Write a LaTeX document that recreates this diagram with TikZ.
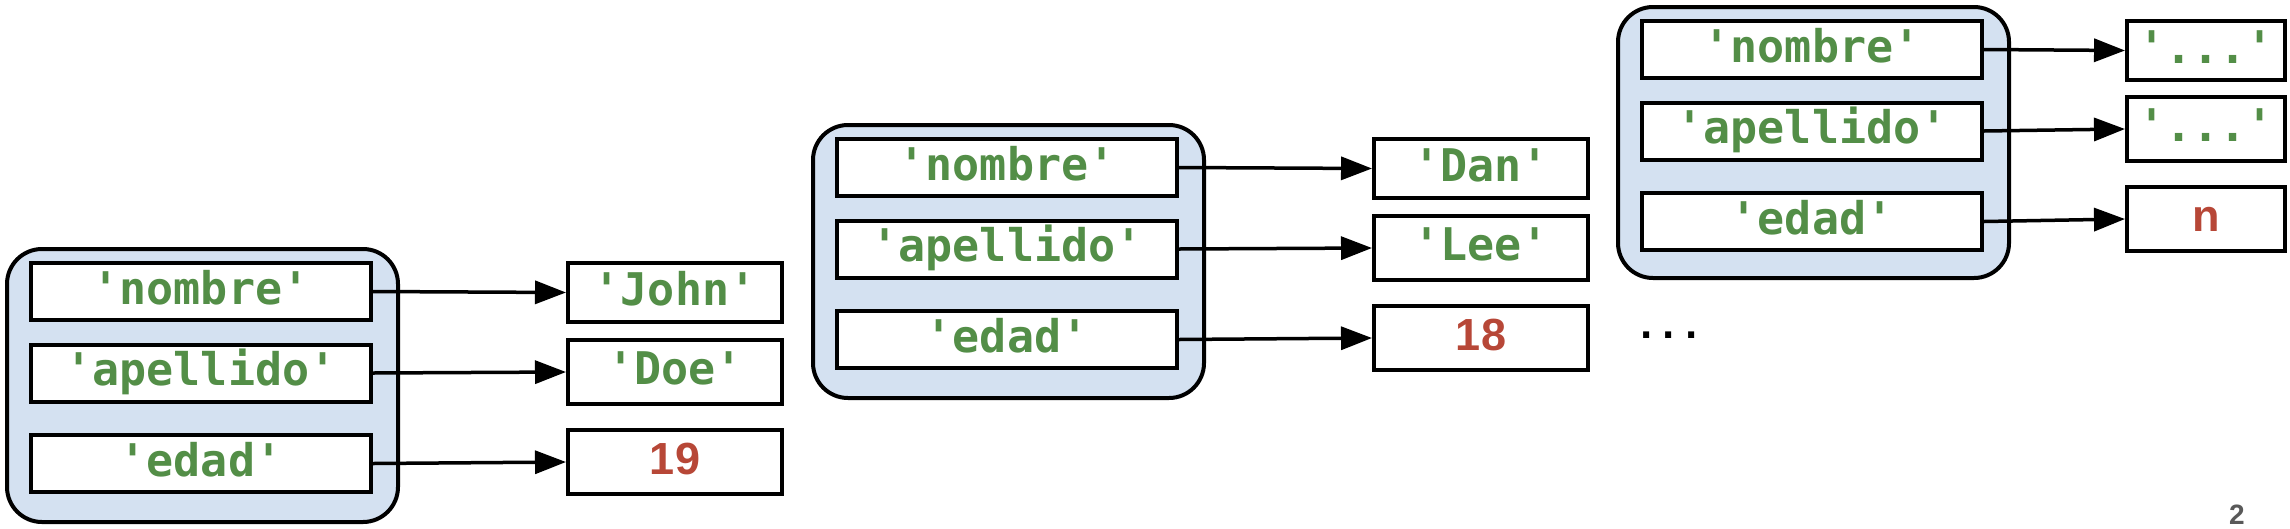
\documentclass[tikz,border=0pt]{standalone}
\usepackage{fontspec}
\usetikzlibrary{arrows.meta}
\newfontfamily\keyfont{DejaVu Sans Mono}[Ligatures=TeXOff]
\newfontfamily\numfont{Liberation Sans}[Ligatures=TeXOff]
\definecolor{kgreen}{RGB}{83,142,71}
\definecolor{kred}{RGB}{183,71,55}
\definecolor{objfill}{RGB}{212,225,241}
\definecolor{pagegray}{RGB}{89,89,89}
\tikzset{
  objbox/.style={draw=black, line width=4pt, fill=objfill, rounded corners=35pt},
  keybox/.style={draw=black, line width=4pt, fill=white, rectangle, inner sep=0pt,
    minimum width=340pt, minimum height=57pt, text height=34pt, text depth=9pt,
    font=\keyfont\bfseries\fontsize{45}{54}\selectfont, text=kgreen},
  valbox/.style={draw=black, line width=4pt, fill=white, rectangle, inner sep=0pt,
    minimum width=214pt, minimum height=59pt, text height=34pt, text depth=9pt,
    font=\keyfont\bfseries\fontsize{45}{54}\selectfont, text=kgreen},
  tallval/.style={minimum height=64pt},
  numval/.style={font=\numfont\bfseries\fontsize{45}{54}\selectfont, text=kred},
  arr/.style={line width=3.5pt, -{Triangle[length=31pt,width=23pt]}},
}
\begin{document}
\begin{tikzpicture}[x=1pt,y=-1pt]
\useasboundingbox (0,0) rectangle (2290,528);
% group 1
\begin{scope}[shift={(29,261)}]
  \path[objbox] (-22,-12) rectangle (369,261);
  \node[keybox] (a1) at (172,30.5) {'nombre'};
  \node[keybox] (a2) at (172,112) {'apellido'};
  \node[keybox] (a3) at (172,202.5) {'edad'};
  \node[valbox] (av1) at (646,31.5) {'John'};
  \node[valbox,tallval] (av2) at (646,111) {'Doe'};
  \node[valbox,tallval,numval] (av3) at (646,201) {19};
  \draw[arr] (a1.east) -- (av1.west);
  \draw[arr] (a2.east) -- (av2.west);
  \draw[arr] (a3.east) -- (av3.west);
\end{scope}
% group 2
\begin{scope}[shift={(835,137)}]
  \path[objbox] (-22,-12) rectangle (369,261);
  \node[keybox] (b1) at (172,30.5) {'nombre'};
  \node[keybox] (b2) at (172,112) {'apellido'};
  \node[keybox] (b3) at (172,202.5) {'edad'};
  \node[valbox] (bv1) at (646,31.5) {'Dan'};
  \node[valbox,tallval] (bv2) at (646,111) {'Lee'};
  \node[valbox,tallval,numval] (bv3) at (646,201) {18};
  \draw[arr] (b1.east) -- (bv1.west);
  \draw[arr] (b2.east) -- (bv2.west);
  \draw[arr] (b3.east) -- (bv3.west);
\end{scope}
% group 3
\begin{scope}[shift={(1640,19)}]
  \path[objbox] (-22,-12) rectangle (369,259);
  \node[keybox] (c1) at (172,30.5) {'nombre'};
  \node[keybox] (c2) at (172,112) {'apellido'};
  \node[keybox] (c3) at (172,202.5) {'edad'};
  \node[valbox,minimum width=158pt] (cv1) at (566,31.5) {'...'};
  \node[valbox,tallval,minimum width=158pt] (cv2) at (566,110) {'...'};
  \node[valbox,tallval,numval,minimum width=158pt] (cv3) at (566,200) {n};
  \draw[arr] (c1.east) -- (cv1.west);
  \draw[arr] (c2.east) -- (cv2.west);
  \draw[arr] (c3.east) -- (cv3.west);
\end{scope}
\node[font=\keyfont\bfseries\fontsize{37}{44}\selectfont, inner sep=0pt, anchor=base] (dots) at (1669,338) {...};
\node[font=\numfont\bfseries\fontsize{28}{34}\selectfont, text=pagegray, inner sep=0pt] (pg) at (2237,515) {2};
\end{tikzpicture}
\end{document}
